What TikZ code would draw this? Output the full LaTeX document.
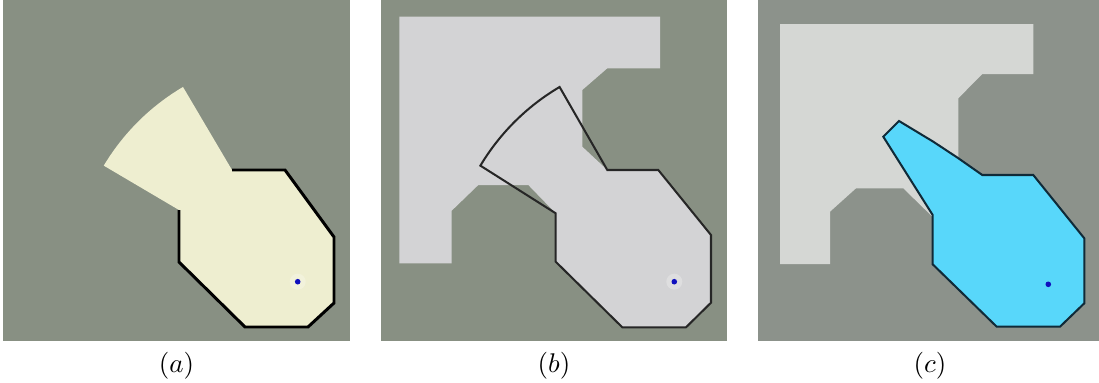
\documentclass[tikz,border=0pt]{standalone}
\usetikzlibrary{calc}
\begin{document}
\begin{tikzpicture}[x=0.37pt,y=-0.37pt,
  panelbg/.style={fill=bgA},
  thickout/.style={draw=black,line width=1.1pt,line join=miter},
  thinout/.style={draw=black!85,line width=0.75pt,line join=miter},
  cyanout/.style={draw=cyanedge,fill=cyanfill,line width=0.75pt,line join=miter},
  dotstyle/.style={fill=dotblue},
  halo/.style={fill=white,opacity=0.25},
  lbl/.style={inner sep=0pt,font=\normalsize}]
\definecolor{bgA}{RGB}{136,144,131}
\definecolor{bgC}{RGB}{140,146,139}
\definecolor{cream}{RGB}{238,238,208}
\definecolor{lightB}{RGB}{211,211,213}
\definecolor{lightC}{RGB}{213,215,212}
\definecolor{cyanfill}{RGB}{88,215,250}
\definecolor{cyanedge}{RGB}{16,42,56}
\definecolor{dotblue}{RGB}{16,16,190}
\useasboundingbox (0,0) rectangle (1099,383);
\fill[white] (0,0) rectangle (1099,383);
% panel backgrounds
\fill[bgA] (3,0) rectangle (350,341);
\fill[bgA] (381,0) rectangle (727,341);
\fill[bgC] (758,0) rectangle (1099,341);

% ---------- panel (a)
\coordinate (ca) at (297.7,281.7);
\fill[cream] (179,210) -- ($(ca)+(210.9:226)$) arc[start angle=210.9,end angle=239.5,radius=226]
  -- (232,170) -- (285,170) -- (334,237) -- (334,303) -- (308,327) -- (245,327) -- (179,262) -- cycle;
\draw[thickout] (232,170) -- (285,170) -- (334,237) -- (334,303) -- (308,327) -- (245,327) -- (179,262) -- (179,210);
\fill[halo] (ca) circle[radius=8];
\fill[dotstyle] (ca) circle[radius=2.8];
\node[lbl] (la) at (176.5,366) {$(a)$};

% ---------- panel (b)
\coordinate (cb) at (674.3,281.7);
\fill[lightB] (399.3,16.7) -- (660,16.7) -- (660,68.3) -- (607.3,68.3) -- (582.3,90) -- (582.3,146.7)
  -- (607.3,170) -- (658.3,170) -- (711,235) -- (711,302.7) -- (686,327.3) -- (622.3,327.3)
  -- (555.7,261.7) -- (555.7,213.3) -- (528.3,185) -- (478.3,185) -- (451.7,210.7) -- (451.7,263.3)
  -- (399.3,263.3) -- cycle;
\draw[thinout] (555.7,213.3) -- ($(cb)+(210.9:226)$) arc[start angle=210.9,end angle=239.5,radius=226]
  -- (607.3,170) -- (658.3,170) -- (711,235) -- (711,302.7) -- (686,327.3) -- (622.3,327.3)
  -- (555.7,261.7) -- cycle;
\fill[halo] (cb) circle[radius=8];
\fill[dotstyle] (cb) circle[radius=2.8];
\node[lbl] (lb) at (554,366) {$(b)$};

% ---------- panel (c)
\coordinate (cc) at (1048.3,284.3);
\fill[lightC] (780,24) -- (1033.3,24) -- (1033.3,74) -- (982.3,74) -- (958.3,98.3) -- (958.3,162)
  -- (982.3,182) -- (1033.3,182) -- (1070,240) -- (1070,300) -- (1000,315) -- (940,262)
  -- (932.7,217) -- (903.3,188.3) -- (856,188.3) -- (830,211.7) -- (830,264) -- (780,264) -- cycle;
\draw[cyanout] (982.3,175) -- (1033.3,175) -- (1084.3,238.3) -- (1084.3,303.3) -- (1060,326.7)
  -- (996.7,326.7) -- (932.7,264.3) -- (932.7,215) -- (883.3,136.7) -- (899,121) -- (933.3,141.7)
  -- (958,158) -- cycle;
\fill[dotstyle] (cc) circle[radius=2.8];
\node[lbl] (lc) at (930,366) {$(c)$};
\end{tikzpicture}
\end{document}
